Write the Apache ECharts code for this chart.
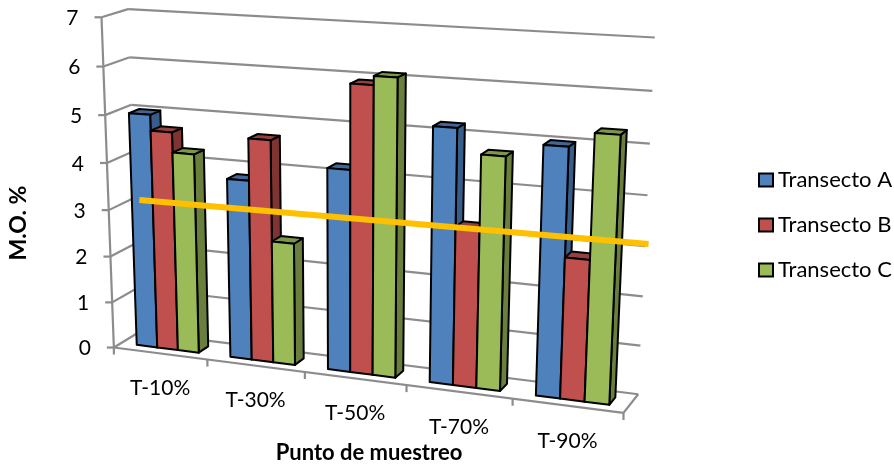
<!DOCTYPE html>
<html>
<head>
<meta charset="utf-8">
<style>html,body{margin:0;padding:0;background:#fff}#chart{width:894px;height:465px}</style>
<script src="https://cdn.jsdelivr.net/npm/echarts@6/dist/echarts.min.js"></script>
</head>
<body>
<div id="chart"></div>
<script>
// Materia orgánica por punto de muestreo y transecto
const categories = ['T-10%', 'T-30%', 'T-50%', 'T-70%', 'T-90%'];
const valueTicks = [0, 1, 2, 3, 4, 5, 6, 7];
const transectoA = [5.0, 3.8, 4.2, 5.2, 5.0];
const transectoB = [4.67, 4.67, 5.92, 3.25, 2.85];
const transectoC = [4.25, 2.58, 6.1, 4.72, 5.3];
const trendPositions = [-0.17, 4.65];
const trendValues = [3.28, 3.365];

const FONT = 'Lato, "Open Sans", sans-serif';
const GRID_COLOR = '#8c8c8c';
const BAR_FRONT = 0.3, BAR_BACK = 0.7, BAR_SHARE = 1 / 4.5;

// Camera calibration: [u, v, depth] of the plot box to its place on the page
const calibration = [
  [0, 0/7, 0, 115, 347], [0, 1/7, 0, 113, 302], [0, 2/7, 0, 110, 257], [0, 3/7, 0, 109, 210],
  [0, 4/7, 0, 107, 163], [0, 5/7, 0, 105, 115], [0, 6/7, 0, 103, 67], [0, 1, 0, 100, 17],
  [1, 0, 1, 638, 393], [1, 1/7, 1, 641, 346], [1, 2/7, 1, 643, 297], [1, 3/7, 1, 645, 246],
  [1, 4/7, 1, 647, 195], [1, 5/7, 1, 650, 143], [1, 6/7, 1, 652, 91], [1, 1, 1, 655, 38],
  [0, 0, 1, 137, 333], [0, 1, 1, 130, 9],
  [0.2, 0, 0, 208, 359], [0.4, 0, 0, 305, 372], [0.6, 0, 0, 406, 386], [0.8, 0, 0, 512, 399], [1, 0, 0, 624, 413]
];

function solveCamera(points) {
  const n = 11, A = [], B = [];
  for (let i = 0; i < n; i++) { A.push(new Array(n).fill(0)); B.push(0); }
  const add = (row, rhs) => {
    for (let i = 0; i < n; i++) {
      for (let j = 0; j < n; j++) A[i][j] += row[i] * row[j];
      B[i] += row[i] * rhs;
    }
  };
  points.forEach(([u, v, d, px, py]) => {
    const X = px / 1000, Y = py / 1000;
    add([u, v, d, 1, 0, 0, 0, 0, -X * u, -X * v, -X * d], X);
    add([0, 0, 0, 0, u, v, d, 1, -Y * u, -Y * v, -Y * d], Y);
  });
  for (let c = 0; c < n; c++) {
    let p = c;
    for (let r = c + 1; r < n; r++) if (Math.abs(A[r][c]) > Math.abs(A[p][c])) p = r;
    [A[c], A[p]] = [A[p], A[c]]; [B[c], B[p]] = [B[p], B[c]];
    for (let r = 0; r < n; r++) {
      if (r === c) continue;
      const f = A[r][c] / A[c][c];
      for (let k = c; k < n; k++) A[r][k] -= f * A[c][k];
      B[r] -= f * B[c];
    }
  }
  return B.map((b, i) => b / A[i][i]);
}
const cam = solveCamera(calibration);
function project(u, v, d) {
  const w = cam[8] * u + cam[9] * v + cam[10] * d + 1;
  return [
    1000 * (cam[0] * u + cam[1] * v + cam[2] * d + cam[3]) / w,
    1000 * (cam[4] * u + cam[5] * v + cam[6] * d + cam[7]) / w
  ];
}

// Converts a category/value pair into box coordinates through the cartesian axes
function toBox(params, api, cat, value) {
  const cs = params.coordSys, p = api.coord([cat, value]);
  return [(p[0] - cs.x) / cs.width, 1 - (p[1] - cs.y) / cs.height];
}

function face(points, fill) {
  return {
    type: 'polygon',
    shape: { points },
    style: { fill, stroke: '#000', lineWidth: 2, lineJoin: 'round' }
  };
}

function barRenderer(slot, colors) {
  return function (params, api) {
    const cat = api.value(0), val = api.value(1);
    const cs = params.coordSys;
    const [uc, v] = toBox(params, api, cat, val);
    const catW = api.size([1, 0])[0] / cs.width;
    const w = catW * BAR_SHARE;
    const u0 = uc + (slot - 1.5) * w, u1 = u0 + w;
    const a = project(u0, 0, BAR_FRONT), b = project(u1, 0, BAR_FRONT), c = project(u1, v, BAR_FRONT), e = project(u0, v, BAR_FRONT);
    const f = project(u1, 0, BAR_BACK), g = project(u1, v, BAR_BACK), h = project(u0, v, BAR_BACK);
    return {
      type: 'group',
      children: [
        face([b, f, g, c], colors.side),
        face([e, c, g, h], colors.top),
        face([a, b, c, e], colors.front)
      ]
    };
  };
}

function seg(p, q, color, width) {
  return {
    type: 'line',
    shape: { x1: p[0], y1: p[1], x2: q[0], y2: q[1] },
    style: { stroke: color, lineWidth: width }
  };
}
function label(text, x, y, align, font, extra) {
  return Object.assign({
    type: 'text', x, y,
    style: { text, fill: '#000', font: (font || '21px') + ' ' + FONT, align, verticalAlign: 'middle' }
  }, extra || {});
}

// Walls, floor, ticks and all axis text of the box
function frameRenderer(params, api) {
  const kids = [];
  valueTicks.forEach(t => {
    const v = toBox(params, api, 0, t)[1];
    const front = project(0, v, 0), back = project(0, v, 1), right = project(1, v, 1);
    kids.push(seg(front, back, GRID_COLOR, 2.2));
    kids.push(seg(back, right, GRID_COLOR, 2.2));
    kids.push(seg([front[0] - 7, front[1]], front, GRID_COLOR, 2.2));
    kids.push(label(String(t), front[0] - 23, front[1] + 1, 'right'));
  });
  kids.push(seg(project(0, 0, 0), project(0, 1, 0), GRID_COLOR, 2.2));
  kids.push(seg(project(0, 0, 0), project(1, 0, 0), GRID_COLOR, 2.2));
  kids.push(seg(project(1, 0, 0), project(1, 0, 1), GRID_COLOR, 2.2));
  const n = categories.length;
  for (let i = 1; i <= n; i++) {
    const p = project(i / n, 0, 0);
    kids.push(seg(p, [p[0], p[1] + 7], GRID_COLOR, 2.2));
  }
  const p0 = project(0, 0, 0);
  kids.push(seg(p0, [p0[0], p0[1] + 7], GRID_COLOR, 2.2));
  categories.forEach((name, i) => {
    const p = project((i + 0.5) / n, 0, 0);
    kids.push(label(name, p[0], p[1] + 35, 'center'));
  });
  kids.push(label('Punto de muestreo', 369, 453, 'center', 'bold 22px'));
  kids.push(label('M.O. %', 19, 223, 'center', 'bold 23px', { rotation: Math.PI / 2 }));
  return { type: 'group', children: kids };
}

function trendRenderer(params, api) {
  const n = categories.length;
  const pts = trendPositions.map((pos, i) => {
    const v = toBox(params, api, 0, trendValues[i])[1];
    return project((pos + 0.5) / n, v, 0);
  });
  return seg(pts[0], pts[1], '#FFC000', 6);
}

const palette = {
  a: { front: '#4F81BD', side: '#385D8A', top: '#3F6797' },
  b: { front: '#C0504D', side: '#7F3432', top: '#94403E' },
  c: { front: '#9BBB59', side: '#6A7F3C', top: '#7D9747' }
};
const names = ['Transecto A', 'Transecto B', 'Transecto C'];
const rows = values => values.map((v, i) => [i, v]);

const chart = echarts.init(document.getElementById('chart'), null, { renderer: 'canvas' });
chart.setOption({
  animation: false,
  backgroundColor: '#fff',
  grid: { left: 100, right: 240, top: 20, bottom: 60 },
  xAxis: { type: 'category', data: categories, show: false },
  yAxis: { type: 'value', min: 0, max: 7, interval: 1, show: false },
  legend: {
    orient: 'vertical', left: 758, top: 169, itemWidth: 14, itemHeight: 13, itemGap: 23, padding: 0,
    selectedMode: false,
    textStyle: { fontFamily: FONT, fontSize: 22, color: '#000' },
    data: names.map((name, i) => ({
      name, icon: 'rect',
      itemStyle: {
        color: [palette.a, palette.b, palette.c][i].front,
        borderColor: '#000', borderWidth: 2
      }
    }))
  },
  series: [
    { type: 'custom', name: 'marco', silent: true, z: 1, renderItem: frameRenderer, data: [[0, 0]] },
    { type: 'custom', name: names[0], z: 2, renderItem: barRenderer(0, palette.a), itemStyle: { color: palette.a.front }, data: rows(transectoA) },
    { type: 'custom', name: names[1], z: 3, renderItem: barRenderer(1, palette.b), itemStyle: { color: palette.b.front }, data: rows(transectoB) },
    { type: 'custom', name: names[2], z: 4, renderItem: barRenderer(2, palette.c), itemStyle: { color: palette.c.front }, data: rows(transectoC) },
    { type: 'custom', name: 'tendencia', silent: true, z: 5, renderItem: trendRenderer, data: [[0, 0]] }
  ]
});
</script>
</body>
</html>
